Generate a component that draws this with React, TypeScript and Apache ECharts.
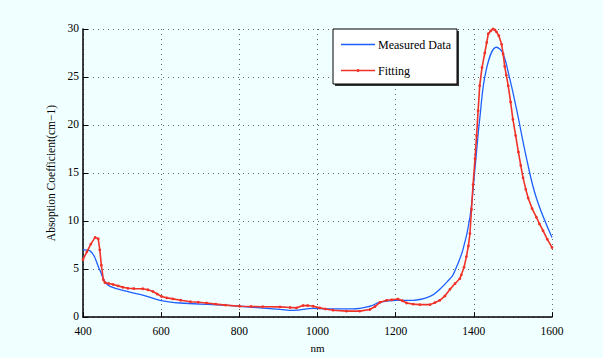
import React, { useEffect, useRef } from "react";
import * as echarts from "echarts";

const measuredX = [400, 418, 443, 456, 469, 520, 553, 597, 648, 733, 801, 904, 938, 989, 1024, 1090, 1134, 1160, 1203, 1244, 1288, 1313, 1339, 1347, 1372, 1390, 1403, 1415, 1432, 1458, 1474, 1492, 1509, 1535, 1560, 1600];
const measuredY = [7.0, 6.9, 4.9, 3.7, 3.2, 2.6, 2.3, 1.75, 1.47, 1.3, 1.13, 0.8, 0.69, 0.9, 0.85, 0.85, 1.13, 1.55, 1.75, 1.75, 2.15, 2.9, 4.0, 4.4, 7.0, 10.4, 15.5, 20.6, 25.8, 28.1, 27.5, 24.8, 21.7, 16.5, 12.4, 8.3];

const fittingX = [400, 410, 420, 431, 439, 443, 447, 452, 456, 466, 477, 490, 502, 515, 530, 553, 566, 579, 590, 601, 615, 630, 650, 675, 695, 716, 740, 765, 801, 830, 860, 904, 930, 946, 963, 975, 989, 1006, 1020, 1040, 1074, 1108, 1134, 1147, 1160, 1177, 1190, 1206, 1217, 1228, 1245, 1262, 1288, 1300, 1313, 1326, 1339, 1352, 1364, 1368, 1375, 1381, 1386, 1390, 1394, 1398, 1403, 1407, 1411, 1415, 1421, 1428, 1433, 1437, 1443, 1449, 1454, 1458, 1464, 1471, 1475, 1479, 1483, 1488, 1494, 1500, 1507, 1514, 1520, 1526, 1533, 1539, 1549, 1560, 1568, 1577, 1588, 1600];
const fittingY = [6.0, 6.8, 7.6, 8.3, 8.15, 7.0, 5.4, 3.9, 3.6, 3.5, 3.4, 3.25, 3.1, 3.0, 2.97, 2.95, 2.85, 2.67, 2.4, 2.15, 2.0, 1.9, 1.75, 1.6, 1.55, 1.47, 1.35, 1.25, 1.13, 1.1, 1.08, 1.06, 1.0, 0.96, 1.2, 1.2, 1.13, 0.96, 0.85, 0.72, 0.62, 0.62, 0.79, 1.1, 1.54, 1.75, 1.8, 1.88, 1.7, 1.47, 1.35, 1.3, 1.3, 1.5, 1.75, 2.2, 2.9, 3.5, 4.0, 4.4, 5.2, 6.3, 7.4, 8.7, 11.2, 13.8, 16.5, 18.9, 21.5, 24.1, 26.0, 27.5, 28.6, 29.5, 29.8, 30.0, 29.9, 29.7, 29.3, 28.4, 27.4, 26.1, 25.2, 24.1, 22.4, 20.6, 18.9, 17.2, 15.8, 14.5, 13.3, 12.4, 11.3, 10.4, 9.7, 9.0, 8.1, 7.25];

const xTicks = [400, 600, 800, 1000, 1200, 1400, 1600];
const yTicks = [0, 5, 10, 15, 20, 25, 30];
const seriesNames = ["Measured Data", "Fitting"];

const FONT = "'Liberation Serif', 'Times New Roman', 'DejaVu Serif', serif";
const BLUE = "#1f5fff";
const RED = "#f03228";

export default function App() {
  const ref = useRef<HTMLDivElement>(null);
  useEffect(() => {
    if (!ref.current) return;
    const chart = echarts.init(ref.current, undefined, { renderer: "svg" });
    const axisCommon = {
      axisLine: { show: true, lineStyle: { color: "#000", width: 1.5 } },
      axisTick: { show: true, inside: true, length: 5, lineStyle: { color: "#000" } },
      axisLabel: { color: "#000", fontFamily: FONT, fontSize: 11.5, formatter: (v: number) => String(v) },
      splitLine: { show: true, lineStyle: { color: "#666", type: [1, 4] as any, width: 1 } },
    };
    const lx = 333, ly = 29, lw = 124, lh = 55;
    chart.setOption({
      animation: false,
      backgroundColor: "#f0ffff",
      textStyle: { fontFamily: FONT },
      grid: { left: 83, right: 51, top: 29, bottom: 37 },
      xAxis: {
        type: "value",
        min: xTicks[0],
        max: xTicks[xTicks.length - 1],
        interval: 200,
        name: "nm",
        nameLocation: "middle",
        nameGap: 21,
        nameTextStyle: { color: "#000", fontFamily: FONT, fontSize: 11 },
        ...axisCommon,
        axisLabel: { ...axisCommon.axisLabel, margin: 8 },
      },
      yAxis: {
        type: "value",
        min: yTicks[0],
        max: yTicks[yTicks.length - 1],
        interval: 5,
        name: "Absoption Coefficient(cm−1)",
        nameLocation: "middle",
        nameGap: 23,
        nameTextStyle: { color: "#000", fontFamily: FONT, fontSize: 11.5 },
        ...axisCommon,
        axisLabel: { ...axisCommon.axisLabel, margin: 4, verticalAlign: "bottom", lineHeight: 12, padding: [0, 0, -5, 0] },
      },
      graphic: [
        { type: "rect", shape: { x: lx + 2, y: ly + 2, width: lw, height: lh }, style: { fill: "#333" }, z: 100 },
        { type: "rect", shape: { x: lx, y: ly, width: lw, height: lh }, style: { fill: "#fff", stroke: "#000", lineWidth: 1 }, z: 101 },
        { type: "line", shape: { x1: lx + 8, y1: ly + 15.5, x2: lx + 42, y2: ly + 15.5 }, style: { stroke: BLUE, lineWidth: 1.3 }, z: 102 },
        { type: "text", x: lx + 45, y: ly + 15.5, style: { text: seriesNames[0], fill: "#000", font: `12px ${FONT}`, verticalAlign: "middle" }, z: 102 },
        { type: "line", shape: { x1: lx + 8, y1: ly + 41.5, x2: lx + 42, y2: ly + 41.5 }, style: { stroke: RED, lineWidth: 1.3 }, z: 102 },
        { type: "circle", shape: { cx: lx + 25, cy: ly + 41.5, r: 1.5 }, style: { fill: RED }, z: 103 },
        { type: "text", x: lx + 45, y: ly + 41.5, style: { text: seriesNames[1], fill: "#000", font: `12px ${FONT}`, verticalAlign: "middle" }, z: 102 },
      ],
      series: [
        {
          name: seriesNames[0],
          type: "line",
          smooth: 0.4,
          symbol: "none",
          lineStyle: { color: BLUE, width: 1.3 },
          itemStyle: { color: BLUE },
          data: measuredX.map((x, i) => [x, measuredY[i]]),
          z: 2,
        },
        {
          name: seriesNames[1],
          type: "line",
          symbol: "circle",
          symbolSize: 2.8,
          showAllSymbol: true,
          lineStyle: { color: RED, width: 1.6 },
          itemStyle: { color: RED },
          data: fittingX.map((x, i) => [x, fittingY[i]]),
          z: 3,
        },
      ],
    });
    return () => chart.dispose();
  }, []);
  return <div ref={ref} style={{ width: 603, height: 358, position: "absolute", left: 0, top: 0 }} />;
}
